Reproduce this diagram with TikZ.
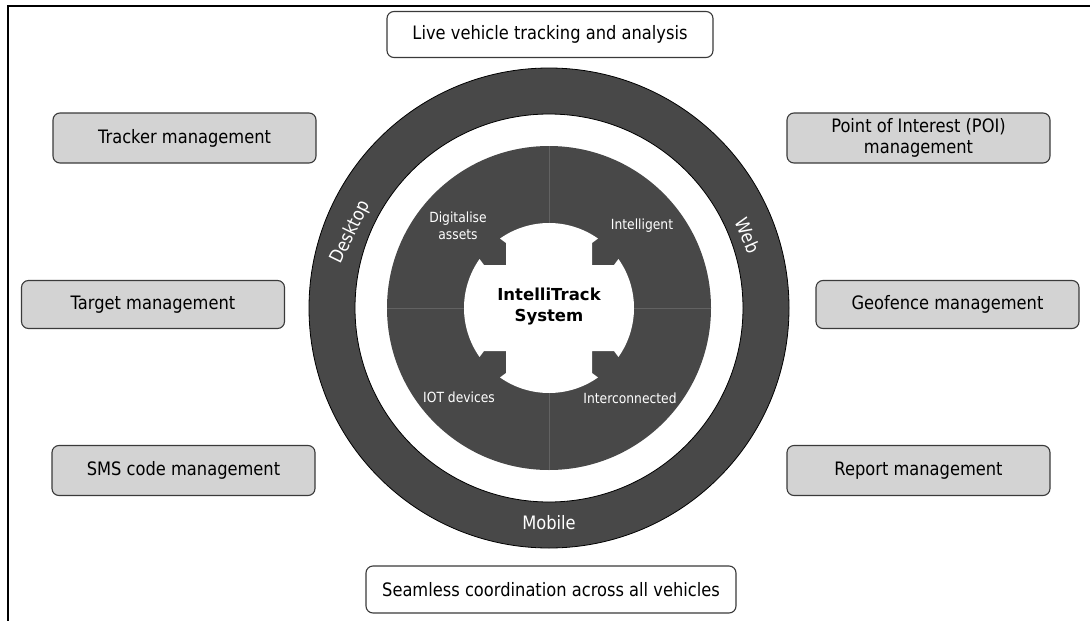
\documentclass[tikz,border=0pt]{standalone}
\usepackage{fontspec}
\setmainfont{DejaVu Sans}[FakeStretch=0.88]
\newfontfamily\hubfont{DejaVu Sans}

\definecolor{ringgray}{HTML}{484848}
\definecolor{boxgray}{HTML}{D3D3D3}
\definecolor{edgegray}{HTML}{3A3A3A}
\definecolor{splitgray}{HTML}{626262}

\begin{document}
\begin{tikzpicture}[x=1pt,y=1pt,
  feature/.style={draw=edgegray, line width=1.1pt, fill=boxgray, rounded corners=7pt,
    minimum width=263pt, minimum height=50pt, inner sep=0pt, align=center,
    font=\fontsize{18.5}{21}\selectfont},
  banner/.style={draw=edgegray, line width=1.1pt, fill=white, rounded corners=7pt,
    minimum height=46pt, inner sep=0pt, align=center,
    font=\fontsize{18.5}{21}\selectfont},
  sector/.style={text=white, align=center, inner sep=0pt, font=\fontsize{14}{17}\selectfont},
  channel/.style={text=white, inner sep=0pt, font=\fontsize{18.5}{20}\selectfont},
  hub/.style={align=center, inner sep=0pt, font=\hubfont\bfseries\fontsize{16.5}{21}\selectfont},
]
\useasboundingbox (0,0) rectangle (1090,-621);

% page frame (open on the right and at the bottom)
\draw[line width=1.6pt] (1090,-6) -- (8,-6) -- (8,-621);

% top and bottom statements
\node[banner, minimum width=326pt] (live) at (550,-34.5) {Live vehicle tracking and analysis};
\node[banner, minimum width=370pt, minimum height=47pt] (seam) at (551,-589.5) {Seamless coordination across all vehicles};

% feature boxes, left column
\node[feature] (tracker) at (184.5,-138) {Tracker management};
\node[feature, minimum height=48pt] (target) at (153,-304.5) {Target management};
\node[feature] (sms) at (183.5,-470.5) {SMS code management};

% feature boxes, right column
\node[feature] (poi) at (918.5,-138) {Point of Interest (POI)\\management};
\node[feature, minimum height=48pt] (geo) at (947.5,-304.5) {Geofence management};
\node[feature] (report) at (918.5,-470.5) {Report management};

\begin{scope}[shift={(549,-308)}]
  \coordinate (C) at (0,0);
  % platform ring
  \path[fill=ringgray, draw=black, line width=0.8pt, even odd rule]
    (C) circle (240) (C) circle (194);
  % quadrant disc
  \fill[ringgray] (C) circle (162);
  \draw[splitgray, line width=0.9pt] (0,162) -- (0,-162) (-162,0) -- (162,0);
  % central hub: four outward arrows with small barbs
  \fill[white]
    (43,43) -- (43,65) -- (54.8:85) arc[start angle=54.8, end angle=125.2, radius=85]
    -- (-43,65) -- (-43,43) -- (-65,43) -- (144.8:85) arc[start angle=144.8, end angle=215.2, radius=85]
    -- (-65,-43) -- (-43,-43) -- (-43,-65) -- (234.8:85) arc[start angle=234.8, end angle=305.2, radius=85]
    -- (43,-65) -- (43,-43) -- (65,-43) -- (-35.2:85) arc[start angle=-35.2, end angle=35.2, radius=85]
    -- (65,43) -- cycle;

  \node[hub] (hubtext) at (0,1) {IntelliTrack\\System};

  \node[sector] (digital) at (-91,82) {Digitalise\\assets};
  \node[sector] (intel) at (93,82) {Intelligent};
  \node[sector] (iot) at (-90,-89) {IOT devices};
  \node[sector] (inter) at (81,-90) {Interconnected};

  \node[channel, rotate=64] (desktop) at (159:212) {Desktop};
  \node[channel, rotate=-67] (web) at (20:212) {Web};
  \node[channel] (mobile) at (270:215) {Mobile};
\end{scope}
\end{tikzpicture}
\end{document}
